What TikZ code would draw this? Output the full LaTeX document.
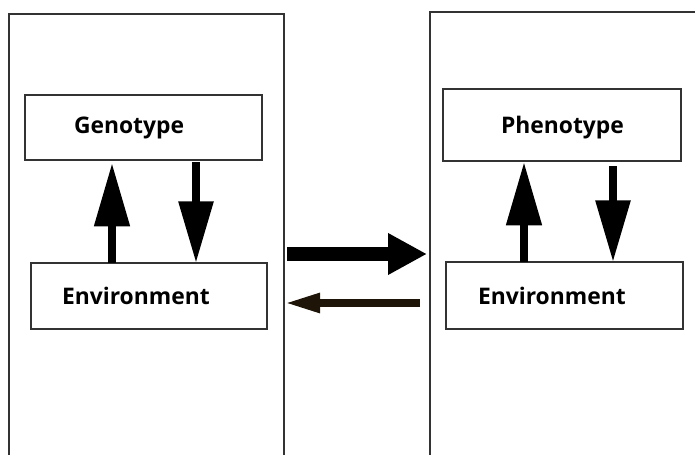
\documentclass[tikz,border=0pt]{standalone}
\usepackage{fontspec}
\setmainfont{Open Sans}
\usetikzlibrary{arrows.meta}
\usetikzlibrary{calc}
\definecolor{boxline}{rgb}{0.2,0.2,0.2}
\definecolor{inkbrown}{rgb}{0.12,0.08,0.03}

\begin{document}
\begin{tikzpicture}[x=0.03cm,y=-0.03cm,
    every node/.style={inner sep=0,outer sep=0,font=\bfseries\fontsize{19.5}{23}\selectfont},
    panel/.style={draw=boxline,line width=1.3pt,anchor=north west,minimum height=15cm},
    stagebox/.style={draw=boxline,line width=1pt,anchor=north west,align=left,minimum height=1.95cm},
    vert/.style={line width=0.24cm,-{Triangle[length=1.9cm,width=1.02cm]}},
    vertdn/.style={line width=0.24cm,-{Triangle[length=1.85cm,width=1.0cm]}}]
    \clip (0,0) rectangle (695,455);
    \node (Lpanel) [panel,minimum width=8.25cm] at (9,14) {};
    \node (Rpanel) [panel,minimum width=9cm] at (430,12) {};
    \node (Geno) [stagebox,text width=4.17cm,inner xsep=1.47cm] at (25,95) {Genotype};
    \node (EnvL) [stagebox,text width=5.22cm,inner xsep=0.93cm,minimum height=1.98cm,text depth=-0.25cm] at (31,263) {Environment};
    \node (Pheno) [stagebox,text width=3.66cm,inner xsep=1.74cm,minimum height=2.16cm,text depth=-0.05cm] at (443,89) {Phenotype};
    \node (EnvR) [stagebox,text width=5.19cm,inner xsep=0.96cm,minimum height=2.01cm,text depth=-0.25cm] at (446,262) {Environment};
    % arrow columns
    \coordinate (upL) at (112,0);
    \coordinate (dnL) at (196,0);
    \coordinate (upR) at (524,0);
    \coordinate (dnR) at (613,0);
    \coordinate (fwd) at (0,254);
    \coordinate (bwd) at (0,303);
    \draw[vert] (EnvL.north -| upL) -- ([yshift=-0.09cm]Geno.south -| upL);
    \draw[vertdn] ([yshift=-0.06cm]Geno.south -| dnL) -- (EnvL.north -| dnL);
    \draw[vert] (EnvR.north -| upR) -- ([yshift=-0.03cm]Pheno.south -| upR);
    \draw[vertdn] ([yshift=-0.15cm]Pheno.south -| dnR) -- (EnvR.north -| dnR);
    \draw[line width=0.42cm,-{Triangle[length=1.17cm,width=1.17cm]}]
        ([xshift=0.09cm]Lpanel.east |- fwd) -- ([xshift=-0.09cm]Rpanel.west |- fwd);
    \draw[draw=inkbrown,fill=inkbrown,line width=0.24cm,-{Triangle[length=1.08cm,width=0.54cm]}]
        ([xshift=-0.3cm]Rpanel.west |- bwd) -- (Lpanel.east |- bwd);
\end{tikzpicture}
\end{document}
